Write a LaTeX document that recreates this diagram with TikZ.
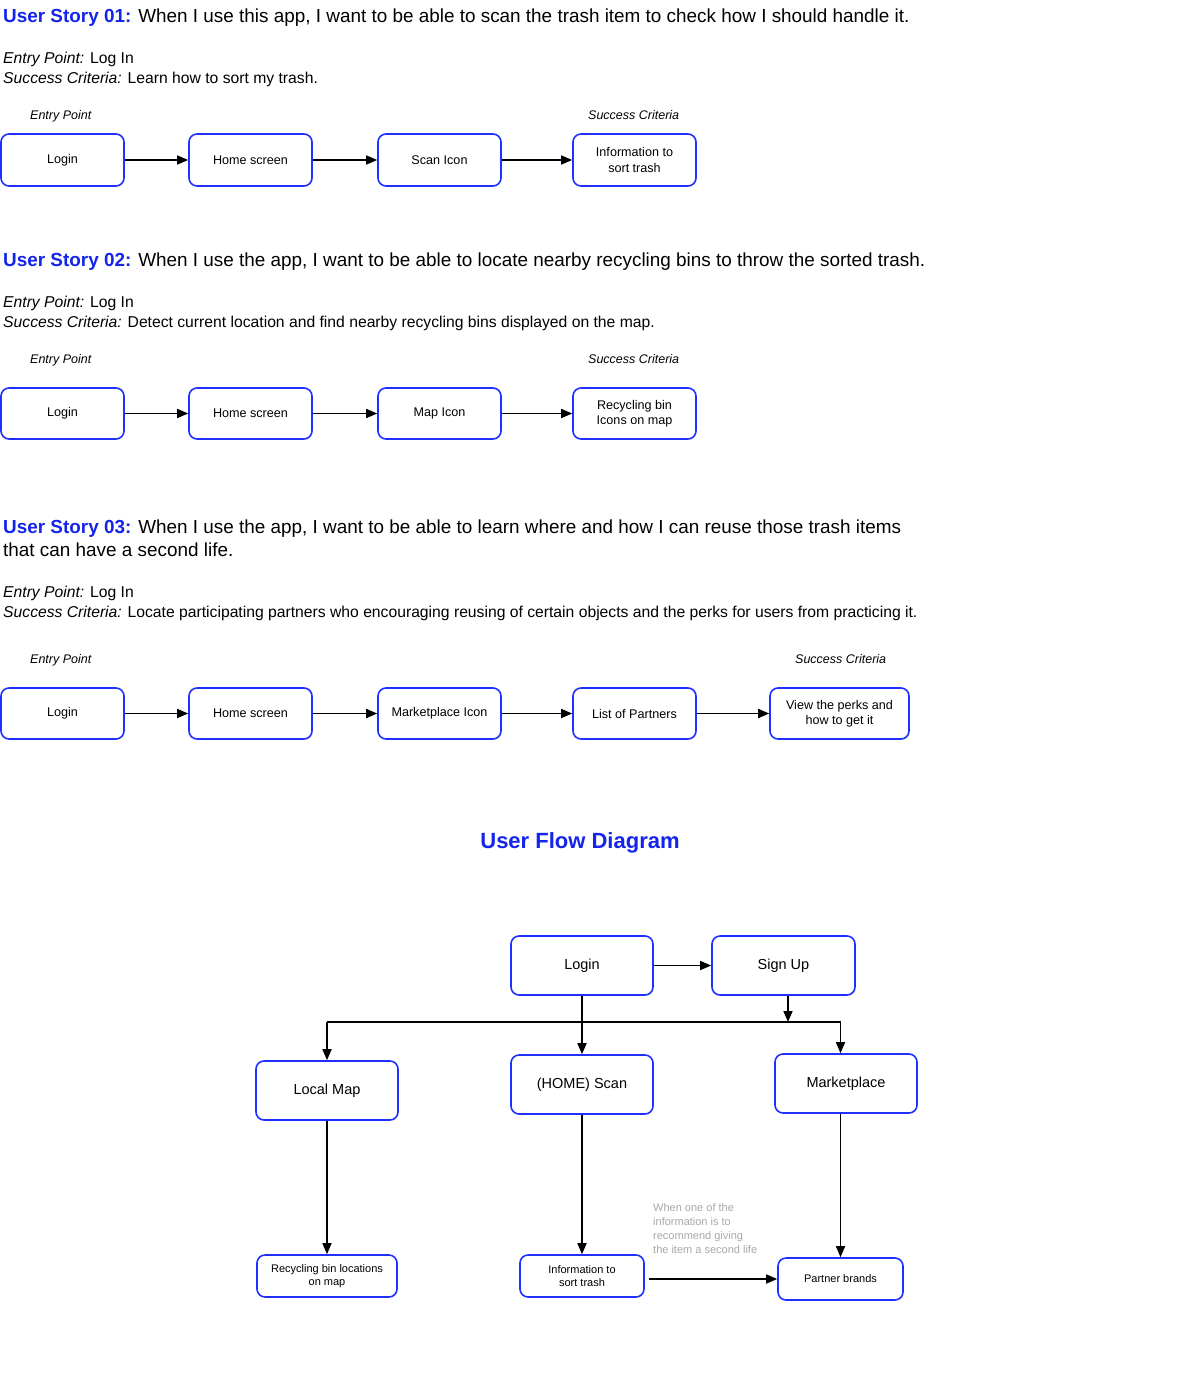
\documentclass[tikz,border=0pt]{standalone}
\usepackage{fontspec}
\setmainfont{Liberation Sans}
\usetikzlibrary{arrows.meta}
\definecolor{boxblue}{RGB}{30,48,255}
\definecolor{headblue}{RGB}{20,36,235}
\definecolor{notegray}{RGB}{168,168,168}
\tikzset{
  x=1pt, y=-1pt,
  txt/.style={anchor=base west, inner sep=0pt, font=\fontsize{18.9}{23}\selectfont},
  body/.style={anchor=base west, inner sep=0pt, font=\fontsize{15.7}{18}\selectfont},
  lbl/.style={anchor=base west, inner sep=0pt, font=\fontsize{12.5}{15}\selectfont\itshape},
  box/.style={draw=boxblue, line width=1.6pt, rounded corners=8pt, align=center, inner sep=2pt,
              font=\fontsize{12.6}{15.5}\selectfont},
  fbox/.style={box, font=\fontsize{14.5}{17}\selectfont},
  sbox/.style={box, font=\fontsize{11}{13.5}\selectfont},
  arr/.style={line width=1.6pt, -{Triangle[length=11pt,width=9pt]}},
  ln/.style={line width=1.6pt}
}
\begin{document}
\begin{tikzpicture}
\useasboundingbox (0,0) rectangle (1200,1383);
\fill[white] (0,0) rectangle (1200,1383);

% ---------- Story 01 ----------
\node[txt] (h1) at (3,22.5) {\textcolor{headblue}{\textbf{User Story 01:}} When I use this app, I want to be able to scan the trash item to check how I should handle it.};
\node[body] (e1) at (3,64) {\textit{Entry Point:} Log In};
\node[body] (s1) at (3,83.5) {\textit{Success Criteria:} Learn how to sort my trash.};
\node[lbl] (le1) at (30,119.5) {Entry Point};
\node[lbl] (ls1) at (588,119.5) {Success Criteria};
\node[box, minimum width=123, minimum height=52] (a1) at (62.5,160) {Login};
\node[box, minimum width=123, minimum height=52] (a2) at (250.5,160) {Home screen};
\node[box, minimum width=123, minimum height=52] (a3) at (439.5,160) {Scan Icon};
\node[box, minimum width=123, minimum height=52] (a4) at (634.5,160) {Information to\\sort trash};
\draw[arr] (a1) -- (a2);
\draw[arr] (a2) -- (a3);
\draw[arr] (a3) -- (a4);

% ---------- Story 02 ----------
\node[txt] (h2) at (3,266) {\textcolor{headblue}{\textbf{User Story 02:}} When I use the app, I want to be able to locate nearby recycling bins to throw the sorted trash.};
\node[body] (e2) at (3,307.5) {\textit{Entry Point:} Log In};
\node[body] (s2) at (3,327) {\textit{Success Criteria:} Detect current location and find nearby recycling bins displayed on the map.};
\node[lbl] (le2) at (30,363.5) {Entry Point};
\node[lbl] (ls2) at (588,363.5) {Success Criteria};
\node[box, minimum width=123, minimum height=51] (b1) at (62.5,413.5) {Login};
\node[box, minimum width=123, minimum height=51] (b2) at (250.5,413.5) {Home screen};
\node[box, minimum width=123, minimum height=51] (b3) at (439.5,413.5) {Map Icon};
\node[box, minimum width=123, minimum height=51] (b4) at (634.5,413.5) {Recycling bin\\Icons on map};
\draw[arr] (b1) -- (b2);
\draw[arr] (b2) -- (b3);
\draw[arr] (b3) -- (b4);

% ---------- Story 03 ----------
\node[txt] (h3) at (3,533) {\textcolor{headblue}{\textbf{User Story 03:}} When I use the app, I want to be able to learn where and how I can reuse those trash items};
\node[txt] (h3b) at (3,556) {that can have a second life.};
\node[body] (e3) at (3,597.5) {\textit{Entry Point:} Log In};
\node[body] (s3) at (3,617) {\textit{Success Criteria:} Locate participating partners who encouraging reusing of certain objects and the perks for users from practicing it.};
\node[lbl] (le3) at (30,663.5) {Entry Point};
\node[lbl] (ls3) at (795,663.5) {Success Criteria};
\node[box, minimum width=123, minimum height=51] (c1) at (62.5,713.5) {Login};
\node[box, minimum width=123, minimum height=51] (c2) at (250.5,713.5) {Home screen};
\node[box, minimum width=123, minimum height=51] (c3) at (439.5,713.5) {Marketplace Icon};
\node[box, minimum width=123, minimum height=51] (c4) at (634.5,713.5) {List of Partners};
\node[box, minimum width=139, minimum height=51] (c5) at (839.5,713.5) {View the perks and\\how to get it};
\draw[arr] (c1) -- (c2);
\draw[arr] (c2) -- (c3);
\draw[arr] (c3) -- (c4);
\draw[arr] (c4) -- (c5);

% ---------- User Flow Diagram ----------
\node[inner sep=0pt, font=\fontsize{22}{26}\selectfont\bfseries, text=headblue] (title) at (580,843) {User Flow Diagram};

\node[fbox, minimum width=142, minimum height=59] (fLogin) at (582,965.5) {Login};
\node[fbox, minimum width=143, minimum height=59] (fSign) at (783.5,965.5) {Sign Up};
\node[fbox, minimum width=142, minimum height=59] (fLocal) at (327,1090.5) {Local Map};
\node[fbox, minimum width=142, minimum height=59] (fScan) at (582,1084.5) {(HOME) Scan};
\node[fbox, minimum width=142, minimum height=59] (fMarket) at (846,1083.5) {Marketplace};
\node[sbox, minimum width=140, minimum height=42] (fRecyc) at (327,1276) {Recycling bin locations\\on map};
\node[sbox, minimum width=124, minimum height=42] (fInfo) at (582,1276) {Information to\\sort trash};
\node[sbox, minimum width=125, minimum height=42] (fPartner) at (840.5,1279) {Partner brands};

\coordinate (jL) at (327,1022);
\coordinate (jR) at (840.5,1022);
\coordinate (jS) at (788,1022);

\draw[arr] (fLogin) -- (fSign);
\draw[arr] (fLogin) -- (fScan);
\draw[ln] (jL) -- (jR);
\draw[arr] (jL) -- (fLocal.north);
\draw[arr] (jR) -- (jR |- fMarket.north);
\draw[arr] (jS |- fSign.south) -- (jS);
\draw[arr] (fLocal) -- (fRecyc);
\draw[arr] (fScan) -- (fInfo);
\draw[arr] (fMarket.south -| fPartner.north) -- (fPartner.north);
\draw[arr] ([xshift=4pt]fInfo.east |- fPartner.west) -- (fPartner.west);

\node[anchor=north west, inner sep=0pt, align=left, text=notegray, font=\fontsize{11}{14}\selectfont] (note) at (653,1203)
  {When one of the\\information is to\\recommend giving\\the item a second life};
\end{tikzpicture}
\end{document}
